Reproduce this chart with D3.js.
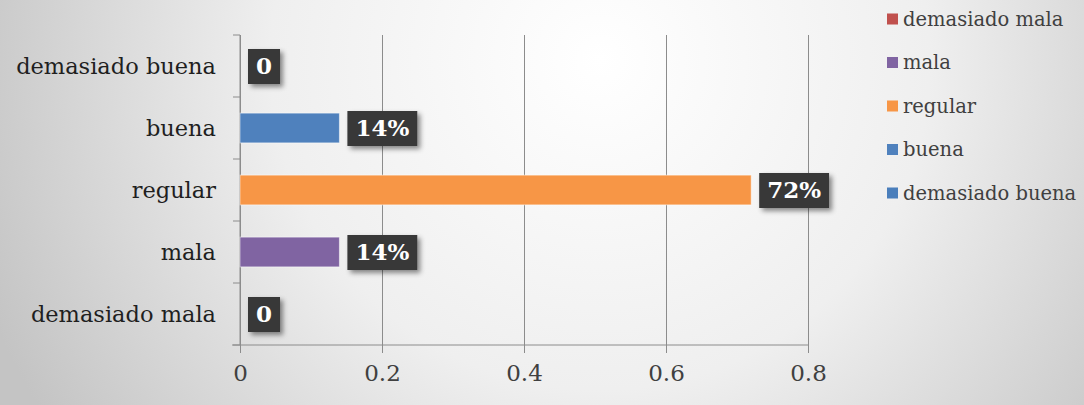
<!DOCTYPE html>
<html>
<head>
<meta charset="utf-8">
<script src="https://cdn.jsdelivr.net/npm/d3@7"></script>
<style>
    body { margin: 0; padding: 0; overflow: hidden; }
    #chart { width: 1084px; height: 405px; }
    text { font-family: "DejaVu Serif", serif; }
</style>
</head>
<body>
<div id="chart"></div>
<script>
// categories, top to bottom as drawn
let categories = ['demasiado buena', 'buena', 'regular', 'mala', 'demasiado mala']
let values = [0, 0.14, 0.72, 0.14, 0]
let valueLabels = ['0', '14%', '72%', '14%', '0']
let barColors = ['#4a7ebb', '#4f81bd', '#f79646', '#8064a2', '#c0504d']
let xTicks = [0, 0.2, 0.4, 0.6, 0.8]
// legend goes bottom category first
let legendNames = ['demasiado mala', 'mala', 'regular', 'buena', 'demasiado buena']
let legendColors = ['#c0504d', '#8064a2', '#f79646', '#4f81bd', '#4a7ebb']

function drawBars() {
    let svgWidth = 1084
    let svgHeight = 405
    let padding = { 'left': 240, 'right': 276, 'top': 35, 'bottom': 60 }

    let svg = d3.select('#chart').append('svg')
        .attr('width', svgWidth)
        .attr('height', svgHeight)

    let defs = svg.append('defs')
    let grad = defs.append('radialGradient')
        .attr('id', 'bg')
        .attr('gradientUnits', 'userSpaceOnUse')
        .attr('cx', 600).attr('cy', 60).attr('r', 660)
    grad.append('stop').attr('offset', '0%').attr('stop-color', '#ffffff')
    grad.append('stop').attr('offset', '50%').attr('stop-color', '#efefef')
    grad.append('stop').attr('offset', '100%').attr('stop-color', '#c4c4c4')

    let shadow = defs.append('filter')
        .attr('id', 'shadow')
        .attr('x', '-30%').attr('y', '-30%')
        .attr('width', '170%').attr('height', '170%')
    shadow.append('feDropShadow')
        .attr('dx', 3).attr('dy', 3)
        .attr('stdDeviation', 2.5)
        .attr('flood-color', '#000')
        .attr('flood-opacity', 0.45)

    svg.append('rect')
        .attr('width', svgWidth)
        .attr('height', svgHeight)
        .attr('fill', 'url(#bg)')

    let x = d3.scaleLinear()
        .domain([0, 0.8])
        .range([padding.left, svgWidth - padding.right])

    let y = d3.scaleBand()
        .domain(categories)
        .range([padding.top, svgHeight - padding.bottom])
        .paddingInner(0.52)
        .paddingOuter(0.26)

    let plotBottom = svgHeight - padding.bottom

    // vertical gridlines, continued under the axis as ticks
    let axis_x = d3.axisBottom(x)
        .tickValues(xTicks)
        .tickSize(-(plotBottom - padding.top))
        .tickFormat(d => d)
    let gx = svg.append('g')
        .attr('transform', `translate(0, ${plotBottom})`)
        .call(axis_x)
    gx.select('.domain').remove()
    gx.selectAll('.tick line')
        .attr('stroke', '#8c8c8c')
        .attr('y2', -(plotBottom - padding.top))
        .attr('y1', 8)
    gx.selectAll('.tick text')
        .attr('font-family', '"DejaVu Serif", serif')
        .attr('font-size', '23px')
        .attr('fill', '#404040')
        .attr('y', 0)
        .attr('dy', '1.55em')

    // x axis baseline
    svg.append('line')
        .attr('x1', padding.left - 8)
        .attr('x2', x(0.8))
        .attr('y1', plotBottom)
        .attr('y2', plotBottom)
        .attr('stroke', '#8c8c8c')

    // y axis with ticks at band boundaries
    let step = y.step()
    let boundaries = d3.range(categories.length + 1).map(i => padding.top + i * step)
    svg.append('line')
        .attr('x1', padding.left).attr('x2', padding.left)
        .attr('y1', padding.top).attr('y2', plotBottom)
        .attr('stroke', '#8c8c8c')
    svg.append('g')
        .selectAll('line')
        .data(boundaries)
        .enter()
        .append('line')
        .attr('x1', padding.left - 7)
        .attr('x2', padding.left)
        .attr('y1', d => d)
        .attr('y2', d => d)
        .attr('stroke', '#8c8c8c')

    svg.append('g')
        .selectAll('text')
        .data(categories)
        .enter()
        .append('text')
        .attr('x', padding.left - 24)
        .attr('y', d => y(d) + y.bandwidth() / 2)
        .attr('dy', '0.35em')
        .attr('text-anchor', 'end')
        .attr('font-size', '22.5px')
        .attr('fill', '#1f1f1f')
        .text(d => d)

    svg.append('g')
        .selectAll('rect')
        .data(categories)
        .enter()
        .append('rect')
        .attr('x', x(0))
        .attr('y', d => y(d))
        .attr('width', (d, i) => x(values[i]) - x(0))
        .attr('height', y.bandwidth())
        .attr('fill', (d, i) => barColors[i])
        .attr('stroke', 'rgba(255,255,255,0.5)')
        .attr('stroke-width', 1)

    // data labels in dark boxes
    let labels = svg.append('g')
        .selectAll('g')
        .data(categories)
        .enter()
        .append('g')
        .attr('transform', (d, i) => `translate(${x(values[i]) + 8}, ${y(d) + y.bandwidth() / 2})`)

    let boxes = labels.append('rect')
        .attr('fill', '#383838')
        .attr('filter', 'url(#shadow)')
    let texts = labels.append('text')
        .attr('font-size', '23px')
        .attr('font-weight', 'bold')
        .attr('fill', '#ffffff')
        .attr('text-anchor', 'middle')
        .attr('dy', '0.36em')
        .text((d, i) => valueLabels[i])
    texts.each(function(d, i) {
        let w = this.getComputedTextLength() + 16
        d3.select(this).attr('x', w / 2)
        d3.select(boxes.nodes()[i])
            .attr('x', 0)
            .attr('y', -17)
            .attr('width', w)
            .attr('height', 35)
    })

    // legend
    let legend = svg.append('g')
        .selectAll('g')
        .data(legendNames)
        .enter()
        .append('g')
        .attr('transform', (d, i) => `translate(887, ${19 + i * 43.5})`)
    legend.append('rect')
        .attr('x', 0)
        .attr('y', -5.5)
        .attr('width', 11)
        .attr('height', 11)
        .attr('fill', (d, i) => legendColors[i])
    legend.append('text')
        .attr('x', 16)
        .attr('dy', '0.35em')
        .attr('font-size', '19.5px')
        .attr('fill', '#404040')
        .text(d => d)
}

drawBars()
</script>
</body>
</html>
